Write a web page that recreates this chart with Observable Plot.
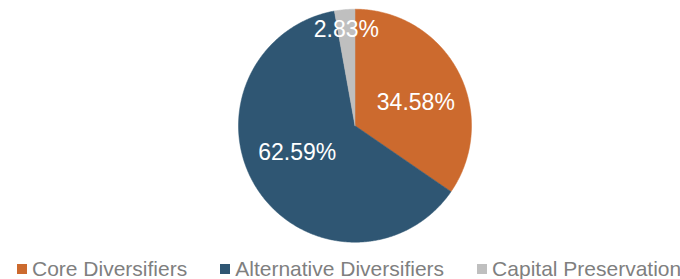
<!DOCTYPE html>
<html><head><meta charset="utf-8">
<script src="https://cdn.jsdelivr.net/npm/d3@7"></script>
<script src="https://cdn.jsdelivr.net/npm/@observablehq/plot@0.6"></script>
<style>
body{margin:0;background:#fff;width:680px;height:279px;overflow:hidden;position:relative;font-family:"Liberation Sans",Arial,sans-serif;}
#chart{position:absolute;left:0;top:0;}
#legend{position:absolute;left:17px;top:257px;white-space:nowrap;font-size:21px;line-height:24px;color:#7f7f7f;}
.item{display:inline-block;margin-right:33px;}
.sw{display:inline-block;width:10px;height:10px;vertical-align:2px;margin-right:5px;}
</style></head><body>
<div id="chart"></div><div id="legend"></div>
<script>
const categories = ["Core Diversifiers", "Alternative Diversifiers", "Capital Preservation"];
const values = [34.58, 62.59, 2.83];
const labels = ["34.58%", "62.59%", "2.83%"];
const colors = ["#CC6A2E", "#2F5673", "#BFBFBF"];

const total = d3.sum(values);
let acc = 0;
const slices = categories.map((c, i) => {
  const a0 = acc / total * 2 * Math.PI; acc += values[i];
  const a1 = acc / total * 2 * Math.PI;
  return {c, v: values[i], label: labels[i], a0, a1};
});
const pts = [];
for (const s of slices) {
  pts.push({c: s.c, x: 0, y: 0});
  const n = Math.max(2, Math.ceil((s.a1 - s.a0) / (Math.PI / 360)));
  for (let k = 0; k <= n; k++) {
    const a = s.a0 + (s.a1 - s.a0) * k / n;
    pts.push({c: s.c, x: Math.sin(a), y: Math.cos(a)});
  }
  pts.push({c: s.c, x: 0, y: 0});
}
// label placement rule: small slices near the rim, large slices on an inner ellipse
const labelPts = slices.map(s => {
  const m = (s.a0 + s.a1) / 2;
  const small = s.v / total < 0.1;
  const rx = small ? 0.83 : 0.59, ry = small ? 0.83 : 0.42;
  return {label: s.label, x: rx * Math.sin(m), y: ry * Math.cos(m)};
});

const chart = Plot.plot({
  width: 680, height: 255,
  marginLeft: 238, marginRight: 209, marginTop: 8.7, marginBottom: 13.3,
  x: {domain: [-1, 1], axis: null},
  y: {domain: [-1, 1], axis: null},
  color: {domain: categories, range: colors},
  style: {fontFamily: '"Liberation Sans", Arial, sans-serif', background: "#fff"},
  marks: [
    Plot.line(pts, {x: "x", y: "y", z: "c", fill: "c", stroke: "c", strokeWidth: 0.5, curve: "linear"}),
    Plot.text(labelPts, {x: "x", y: "y", text: "label", fill: "white", fontSize: 23})
  ]
});
document.getElementById("chart").appendChild(chart);

const legend = d3.select("#legend");
categories.forEach((c, i) => {
  const it = legend.append("span").attr("class", "item");
  it.append("span").attr("class", "sw").style("background", colors[i]);
  it.append("span").text(c);
});
</script>
</body></html>
